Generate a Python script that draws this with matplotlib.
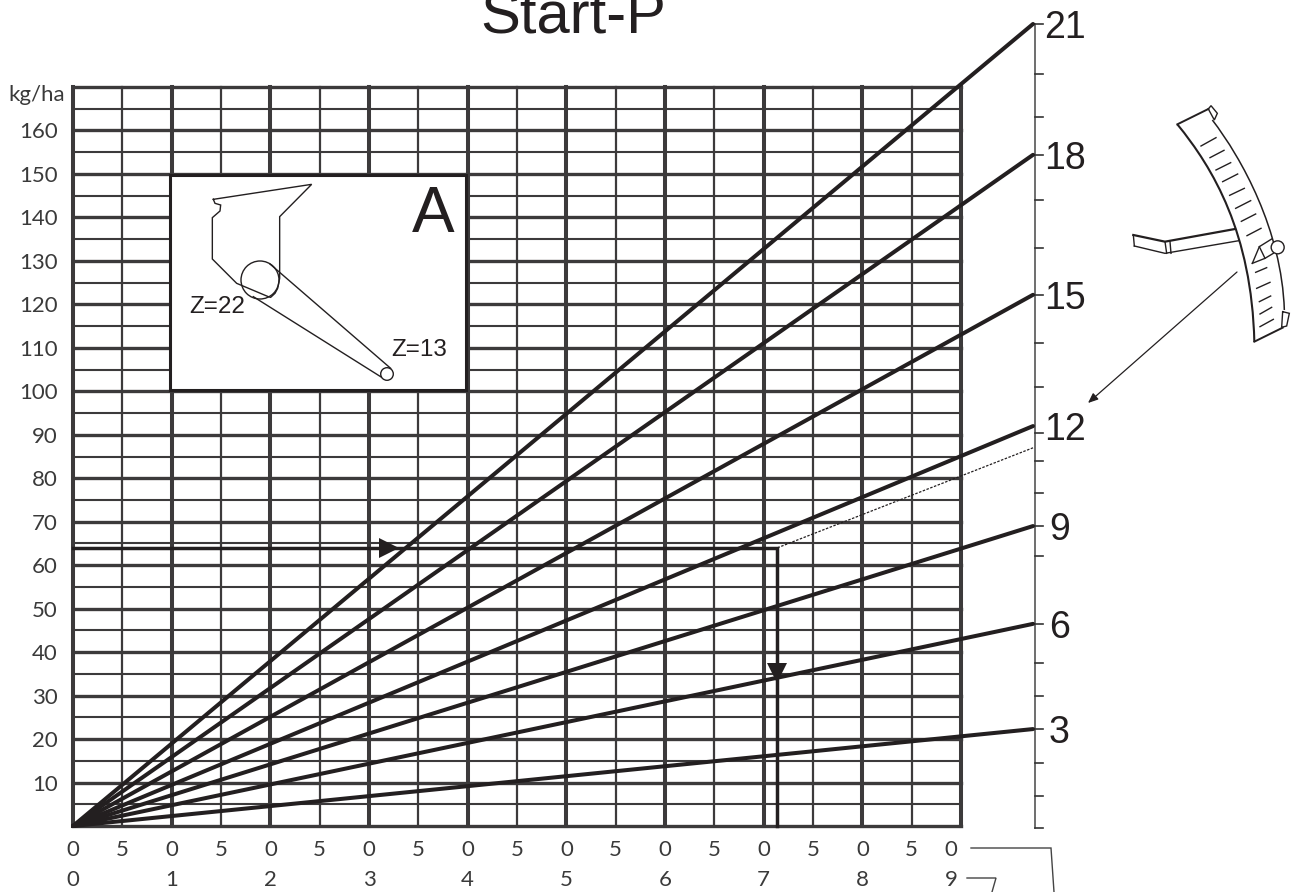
import matplotlib
matplotlib.use("Agg")
import matplotlib.pyplot as plt
from matplotlib.patches import Circle, Rectangle, PathPatch
from matplotlib.path import Path

# ---- data ----
y_labels = [10, 20, 30, 40, 50, 60, 70, 80, 90, 100, 110, 120, 130, 140, 150, 160]
x_top_labels = ["0", "5"] * 9 + ["0"]
x_bottom_labels = ["0", "1", "2", "3", "4", "5", "6", "7", "8", "9"]
setting_names = ["3", "6", "9", "12", "15", "18", "21"]
setting_end_values = [22.3, 46.5, 69.0, 92.0, 122.2, 154.4, 184.5]
reading_y = 64
reading_x = 71.4
dotted_end_value = 87.0
scale_ticks_value = [-0.4, 7, 14.6, 22.3, 30, 37.6, 46.5, 62.1, 69, 76.5, 84, 90.5, 101, 111, 122.2, 133, 144, 154.4, 163, 173, 184.5]

XMAX, YMAX = 90, 170
SCALE_X = 97.3
INK = "#231f20"
GRID = "#3c3a3b"
LABEL_INK = "#3a3a3a"
plt.rcParams["font.family"] = ["Liberation Sans", "DejaVu Sans"]
LABEL_FONT = ["Lato", "DejaVu Sans"]

fig = plt.figure(figsize=(12.95, 8.92), dpi=100, facecolor="white")

W, H = 1295, 892
ax = fig.add_axes([73 / W, (H - 826) / H, (961 - 73) / W, (826 - 87) / H])
ax.set_xlim(0, XMAX)
ax.set_ylim(0, YMAX)
ax.axis("off")

for x in range(0, XMAX + 1, 5):
    major = x % 10 == 0
    ax.plot([x, x], [0, YMAX], color=GRID, lw=2.9 if major else 1.6, zorder=1, clip_on=False, solid_capstyle="projecting")
for y in range(0, YMAX + 1, 5):
    major = y % 10 == 0
    ax.plot([0, XMAX], [y, y], color=GRID, lw=2.4 if major else 1.5, zorder=1, clip_on=False, solid_capstyle="projecting")

for end in setting_end_values:
    ax.plot([0, SCALE_X], [0, end], color=INK, lw=2.9, zorder=3, clip_on=False, solid_capstyle="round")

# right-hand scale
ax.plot([SCALE_X + 0.2] * 2, [-0.4, 184.5], color="#555555", lw=1.2, clip_on=False, zorder=2)
for v in scale_ticks_value:
    ax.plot([SCALE_X + 0.2, SCALE_X + 1.0], [v, v], color="#333333", lw=1.2, clip_on=False, zorder=2)
for name, end in zip(setting_names, setting_end_values):
    shift = 1.6 if len(name) == 1 else 1.1
    ax.text(SCALE_X + shift, end, name, fontsize=27, color=INK, ha="left", va="center_baseline", clip_on=False)

# reading lines
ax.plot([0, reading_x, reading_x], [reading_y, reading_y, 0], color=INK, lw=2.5, zorder=4, clip_on=False, solid_joinstyle="miter")
ax.plot([reading_x, SCALE_X], [reading_y, dotted_end_value], color=INK, lw=0.9, ls=(0, (2, 1.2)), zorder=4, clip_on=False)
ax.plot([32.0], [reading_y], marker=">", ms=14, color=INK, zorder=5, clip_on=False, mew=0)
ax.plot([reading_x], [35.2], marker="v", ms=14, color=INK, zorder=5, clip_on=False, mew=0)

# tick labels
for v in y_labels:
    ax.text(-1.55, v, str(v), fontsize=16, family=LABEL_FONT, color=LABEL_INK, ha="right", va="center_baseline", clip_on=False)
for i, lab in enumerate(x_top_labels):
    x = 5 * i if i < 18 else 89
    ax.text(x, -5.1, lab, fontsize=16, family=LABEL_FONT, color=LABEL_INK, ha="center", va="center_baseline", clip_on=False)
for i, lab in enumerate(x_bottom_labels):
    x = 10 * i if i < 9 else 89
    ax.text(x, -12, lab, fontsize=16, family=LABEL_FONT, color=LABEL_INK, ha="center", va="center_baseline", clip_on=False)

# overlay in pixel units for the title, inset and sketch
px = fig.add_axes([0, 0, 1, 1], zorder=10)
px.set_xlim(0, W)
px.set_ylim(H, 0)
px.axis("off")
px.patch.set_alpha(0)

def pl(points, lw=1.0, color=INK, **kw):
    px.plot([p[0] for p in points], [p[1] for p in points], color=color, lw=lw, solid_joinstyle="miter", **kw)

px.text(573, 34, "Start-P", fontsize=43, color=INK, ha="center", va="baseline")
px.text(36.5, 95, "kg/ha", fontsize=16, family=LABEL_FONT, color=LABEL_INK, ha="center", va="center")

# inset A
px.add_patch(Rectangle((170, 175), 295.5, 215, fc="white", ec=INK, lw=2.2, zorder=2))
def iz(points):
    return [(150 + a / 3, 165 + b / 3) for a, b in points]
pl(iz([(190, 103), (485, 58), (389, 155), (389, 340), (383, 370), (375, 385), (362, 397), (355, 395),
       (260, 355), (187, 282), (187, 158), (210, 138), (212, 120), (195, 115), (190, 103)]), lw=1.0, zorder=3)
pl(iz([(360, 297), (722, 610)]), lw=1.0, zorder=3)
pl(iz([(310, 395), (695, 637)]), lw=1.0, zorder=3)
px.add_patch(Circle((260, 280), 19, fc="none", ec=INK, lw=1.0, zorder=3))
px.add_patch(Circle((387, 374), 6.3, fc="white", ec=INK, lw=1.0, zorder=3))
px.text(189, 313, "Z=22", fontsize=17.5, color=INK, ha="left", va="baseline", zorder=4)
px.text(391, 356.5, "Z=13", fontsize=17.5, color=INK, ha="left", va="baseline", zorder=4)
px.text(433, 232, "A", fontsize=46, color=INK, ha="center", va="baseline", zorder=4)

# lever sketch
def mz(points):
    return [(1100 + a / 3, 90 + b / 3) for a, b in points]
def curve(p0, c1, c2, p1, lw):
    verts = mz([p0, c1, c2, p1])
    px.add_patch(PathPatch(Path(verts, [Path.MOVETO, Path.CURVE4, Path.CURVE4, Path.CURVE4]), fc="none", ec=INK, lw=lw))
curve((232, 103), (340, 235), (455, 430), (463, 755), 1.5)
curve((337, 90), (425, 205), (545, 420), (553, 660), 1.1)
pl(mz([(325, 57), (232, 103)]), lw=1.4)
pl(mz([(463, 755), (548, 713)]), lw=1.4)
pl(mz([(325, 57), (333, 47), (352, 70), (343, 90), (325, 57)]), lw=1.0)
pl(mz([(548, 665), (568, 670), (560, 708), (545, 712), (548, 665)]), lw=1.0)
for seg in [[(303, 168), (348, 143)], [(330, 203), (372, 181)], [(348, 240), (392, 218)], [(368, 275), (413, 252)],
            [(389, 316), (433, 295)], [(407, 355), (452, 332)], [(424, 394), (467, 372)], [(441, 437), (483, 415)],
            [(467, 547), (500, 533)], [(470, 595), (510, 577)], [(478, 635), (512, 618)], [(480, 672), (515, 652)],
            [(480, 710), (520, 688)]]:
    pl(mz(seg), lw=1.0)
pl(mz([(100, 435), (195, 455), (405, 417)]), lw=1.6)
pl(mz([(103, 468), (195, 490), (417, 452)]), lw=1.0)
pl(mz([(100, 435), (103, 468)]), lw=1.0)
pl(mz([(195, 455), (200, 490)]), lw=1.0)
pl(mz([(210, 455), (213, 490)]), lw=1.0)
pl(mz([(457, 520), (478, 470), (515, 447)]), lw=1.0)
pl(mz([(457, 520), (495, 505), (520, 490)]), lw=1.0)
pl(mz([(478, 470), (495, 505)]), lw=1.0)
px.add_patch(Circle((1100 + 533 / 3, 90 + 472 / 3), 6.5, fc="white", ec=INK, lw=1.0, zorder=4))
px.annotate("", xy=(1088, 403), xytext=(1237, 272),
            arrowprops=dict(arrowstyle="-|>,head_length=0.6,head_width=0.25", color=INK, lw=0.9, shrinkA=0, shrinkB=0))

# leaders at the foot of the chart
pl([(971, 848), (1051, 848), (1054, 892)], lw=1.0, color="#444444")
pl([(967, 878), (996, 878), (992, 892)], lw=1.0, color="#444444")

fig.savefig("out.png", dpi=100, facecolor="white")
